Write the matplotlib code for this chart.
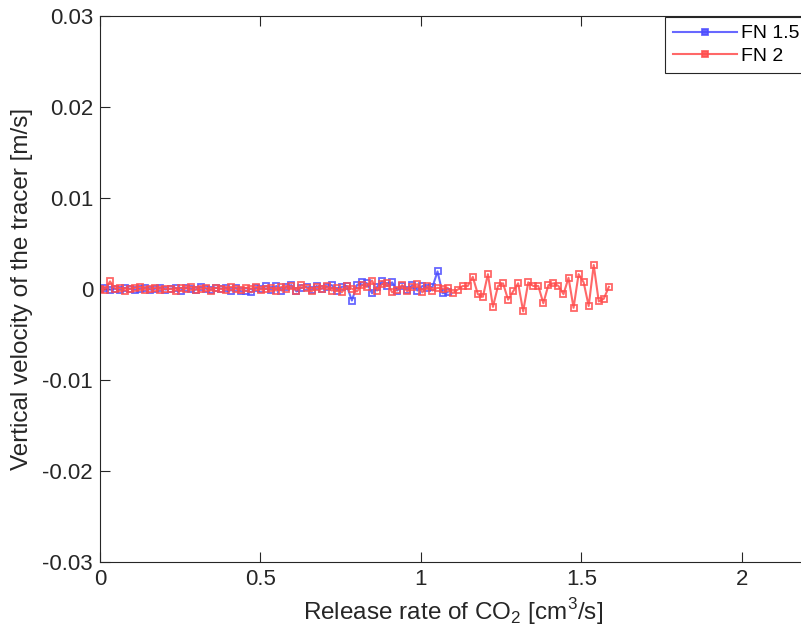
import numpy as np
import matplotlib
matplotlib.use("Agg")
from matplotlib import pyplot as plt

plt.rcParams['font.family'] = ['Liberation Sans', 'DejaVu Sans']
plt.rcParams['mathtext.fontset'] = 'custom'
plt.rcParams['mathtext.rm'] = 'Liberation Sans'

# release-rate sampling step [cm^3/s]
step = 0.0157

# vertical tracer velocity [m/s], FN 1.5
v_fn15 = [0.0000, 0.0001, -0.0001, 0.0000, -0.0001, 0.0001, 0.0000, -0.0001, 0.0000, 0.0001,
          -0.0001, 0.0000, 0.0001, -0.0001, 0.0000, 0.0001, -0.0002, 0.0001, 0.0000, -0.0001,
          0.0002, 0.0000, -0.0001, 0.0001, 0.0000, 0.0001, -0.0002, 0.0001, -0.0003, -0.0002,
          -0.0004, 0.0001, 0.0000, 0.0003, -0.0001, 0.0003, -0.0002, 0.0002, 0.0004, -0.0003,
          0.0001, 0.0002, -0.0001, 0.0003, 0.0000, 0.0002, 0.0004, -0.0002, 0.0002, 0.0003,
          -0.0013, 0.0004, 0.0007, 0.0006, -0.0005, 0.0002, 0.0008, 0.0003, 0.0007, -0.0002,
          0.0003, -0.0001, 0.0004, -0.0002, 0.0003, 0.0001, 0.0002, 0.0019, -0.0005, -0.0004]

# vertical tracer velocity [m/s], FN 2
v_fn2 = [0.0000, -0.0001, 0.0008, 0.0000, 0.0001, -0.0002, 0.0000, 0.0001, 0.0002, -0.0001,
         0.0000, 0.0001, -0.0001, 0.0000, 0.0000, -0.0002, 0.0001, 0.0000, 0.0002, -0.0001,
         0.0000, 0.0001, -0.0002, 0.0001, 0.0000, -0.0001, 0.0002, 0.0000, -0.0001, 0.0001,
         0.0000, 0.0002, -0.0001, 0.0000, 0.0001, -0.0002, 0.0002, 0.0000, 0.0003, -0.0002,
         0.0004, 0.0001, -0.0003, 0.0002, 0.0000, 0.0003, -0.0002, 0.0001, -0.0004, 0.0003,
         0.0000, -0.0003, 0.0004, 0.0002, 0.0009, -0.0002, 0.0005, 0.0006, -0.0004, -0.0001,
         0.0004, -0.0003, 0.0002, 0.0005, -0.0004, 0.0003, -0.0002, 0.0001,
         0.0000, 0.0001, -0.0005, -0.0001, 0.0003, 0.0003, 0.0013, -0.0006, -0.0009, 0.0016,
         -0.0020, 0.0003, 0.0006, -0.0012, -0.0003, 0.0006, -0.0025, 0.0007, 0.0003, 0.0003,
         -0.0016, 0.0004, 0.0006, 0.0003, -0.0006, 0.0012, -0.0021, 0.0016, 0.0007, -0.0019,
         0.0026, -0.0014, -0.0011, 0.0002]

q_fn15 = step * np.arange(len(v_fn15))
q_fn2 = step * np.arange(len(v_fn2))

fig = plt.figure(figsize=(8.01, 6.44), dpi=100)
# axes run a little past the right edge of the figure
ax = fig.add_axes([0.1248, 0.1278, 0.8814, 0.8478])

ax.plot(q_fn15, v_fn15, color='#4d4dff', marker='s', ms=4.5, mfc='none', mew=1.3,
        lw=1.5, alpha=0.85, label='FN 1.5')
ax.plot(q_fn2, v_fn2, color='#ff4d4d', marker='s', ms=4.5, mfc='none', mew=1.3,
        lw=1.5, alpha=0.85, label='FN 2')

ax.set_xlim(0, 2.2)
ax.set_ylim(-0.03, 0.03)
ax.set_xticks([0, 0.5, 1, 1.5, 2])
ax.set_xticklabels(['0', '0.5', '1', '1.5', '2'])
ax.set_yticks([-0.03, -0.02, -0.01, 0, 0.01, 0.02, 0.03])
ax.set_yticklabels(['-0.03', '-0.02', '-0.01', '0', '0.01', '0.02', '0.03'])
ax.tick_params(direction='in', length=7, width=0.8, colors='#262626', labelsize=16,
               top=True, right=False, pad=5)
for s in ax.spines.values():
    s.set_color('#262626')
    s.set_linewidth(0.8)

ax.set_xlabel('Release rate of CO$_2$ [cm$^3$/s]', fontsize=17.5, color='#262626', labelpad=5)
ax.set_ylabel('Vertical velocity of the tracer [m/s]', fontsize=17.5, color='#262626', labelpad=7)

leg = ax.legend(loc='upper left', bbox_to_anchor=(665 / 801, 1 - 17 / 644),
                bbox_transform=fig.transFigure, fancybox=False, framealpha=1,
                edgecolor='#262626', fontsize=14, handlelength=3.3, handletextpad=0.2,
                borderaxespad=0, borderpad=0.4, labelspacing=0.25)
leg.get_frame().set_linewidth(0.8)
for h in leg.legend_handles:
    h.set_markerfacecolor(h.get_color())

fig.savefig('out.png', dpi=100)
